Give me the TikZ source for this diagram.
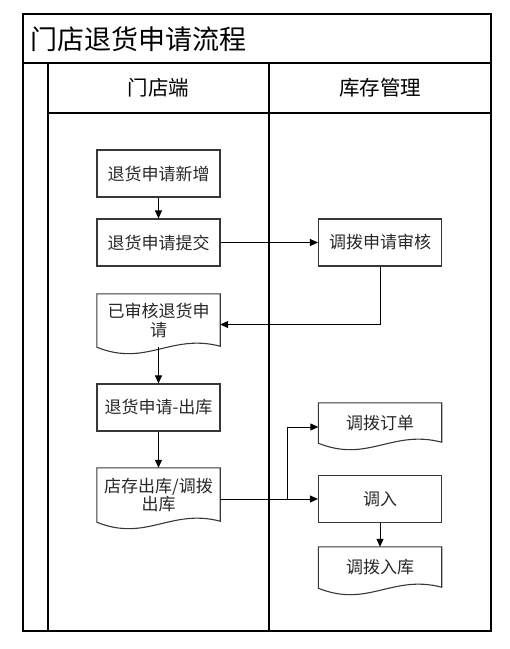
\documentclass[tikz,border=0pt]{standalone}
\usepackage{fontspec}
\setmainfont{Noto Sans CJK SC}
\usepackage{tikz}
\usetikzlibrary{arrows.meta,positioning,calc}
\definecolor{boxgray}{RGB}{55,55,55}
\definecolor{textgray}{RGB}{40,40,40}

\tikzset{
  lane/.style={line width=1.2pt, black},
  stepbox/.style={draw=boxgray, line width=1.1pt, rectangle, minimum width=123pt,
    minimum height=47pt, inner sep=2pt, align=center, text=textgray,
    font=\fontsize{17}{18.5}\selectfont},
  docbox/.style={rectangle, minimum width=123pt, inner sep=2pt, align=center,
    text=textgray, font=\fontsize{17}{18.5}\selectfont},
  docline/.style={draw=boxgray, line width=1.1pt},
  flow/.style={line width=1pt, -{Triangle[length=8pt,width=7pt]}}
}

\begin{document}
\begin{tikzpicture}[x=1pt,y=-1pt]
    \useasboundingbox (0,0) rectangle (510,649);

    % Pool frame
    \draw[lane] (23,14) rectangle (491,631);
    \draw[lane] (23,63) -- (491,63);
    \draw[lane] (48,63) -- (48,631);
    \draw[lane] (48,113) -- (491,113);
    \draw[lane] (269,63) -- (269,631);

    % Title and lane headers
    \node[anchor=west, inner sep=0pt, font=\fontsize{27}{30}\selectfont] (title) at (30,39) {门店退货申请流程};
    \node[font=\fontsize{20.5}{22}\selectfont] (storelane) at (158.5,88) {门店端};
    \node[font=\fontsize{20.5}{22}\selectfont] (stocklane) at (380,88) {库存管理};

    % Store side
    \node[stepbox] (xinzeng) at (158.5,173.5) {退货申请新增};
    \node[stepbox] (tijiao) at (158.5,242.5) {退货申请提交};
    \node[docbox, minimum height=53pt] (yishenhe) at (158.5,320.5) {已审核退货申\\请};
    \node[stepbox] (tuichu) at (158.5,407.5) {退货申请-出库};
    \node[docbox, minimum height=54pt] (diancun) at (158.5,495) {店存出库/调拨\\出库};

    % Stock side
    \node[stepbox] (shenhe) at (380,242.5) {调拨申请审核};
    \node[docbox, minimum height=40pt] (dingdan) at (380,423) {调拨订单};
    \node[stepbox] (diaoru) at (380,499) {调入};
    \node[docbox, minimum height=41pt] (ruku) at (380,567.5) {调拨入库};

    % Document outlines
    \foreach \d in {yishenhe,diancun,dingdan,ruku} {
        \draw[docline] (\d.south west) -- (\d.north west) -- (\d.north east) -- ([yshift=1pt]\d.south east)
            .. controls ($(\d.south west)!0.6!(\d.south east)+(0,-14)$) and ($(\d.south west)!0.4!(\d.south east)+(0,20)$) .. (\d.south west) -- cycle;
    }

    % Connectors
    \coordinate (fork) at (287,499);
    \draw[flow] (xinzeng) -- (tijiao);
    \draw[flow] (tijiao) -- (shenhe);
    \draw[flow] (shenhe.south) |- ([yshift=-4pt]yishenhe.east);
    \draw[flow] (yishenhe.south) -- (tuichu.north);
    \draw[flow] (tuichu) -- (diancun.north);
    \draw[flow] ([yshift=-4pt]diancun.east) -- (diaoru.west);
    \draw[flow] (fork) |- ([yshift=-4pt]dingdan.west);
    \draw[flow] (diaoru) -- (ruku.north);
\end{tikzpicture}
\end{document}
